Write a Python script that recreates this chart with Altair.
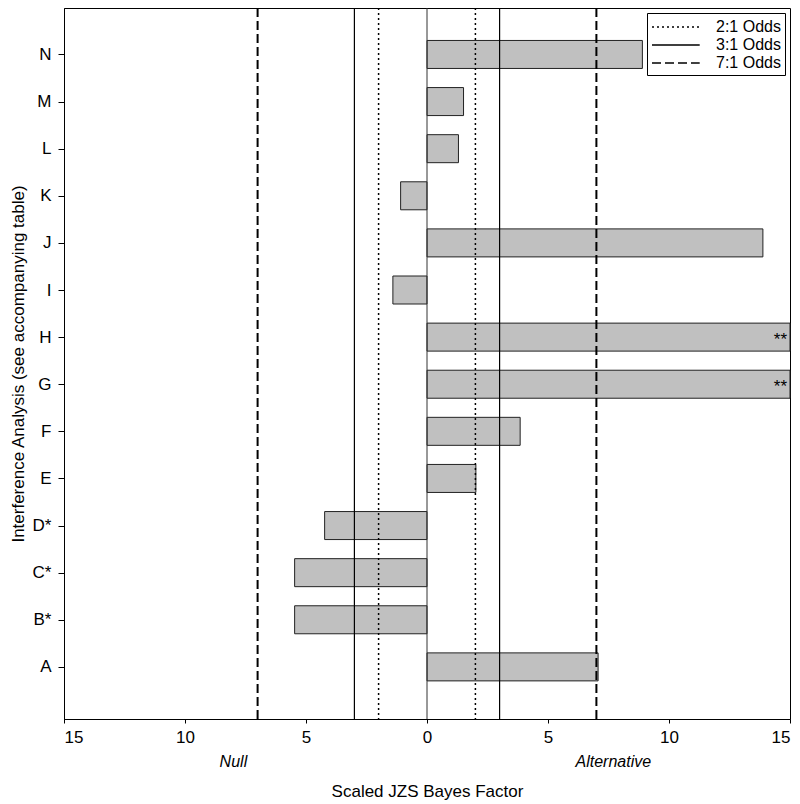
import json
import altair as alt
import pandas as pd

categories = ["A", "B*", "C*", "D*", "E", "F", "G", "H", "I", "J", "K", "L", "M", "N"]
bayes = [7.07, -5.47, -5.47, -4.23, 2.02, 3.85, 15.0, 15.0, -1.41, 13.88, -1.09, 1.30, 1.51, 8.9]
marks = ["", "", "", "", "", "", "**", "**", "", "", "", "", "", ""]

odds_types = ["2:1 Odds", "2:1 Odds", "3:1 Odds", "3:1 Odds", "7:1 Odds", "7:1 Odds"]
odds_pos = [-2, 2, -3, 3, -7, 7]
odds_width = [1.5, 1.5, 1.2, 1.2, 2, 2]

side_labels = ["Null", "Alternative"]
side_pos = [-8.0, 7.7]

bars = pd.DataFrame({
    "cat": categories,
    "pos": list(range(1, len(categories) + 1)),
    "val": bayes,
    "zero": [0] * len(categories),
    "mark": marks,
})
rules = pd.DataFrame({"type": odds_types, "x": odds_pos, "w": odds_width})
sides = pd.DataFrame({"label": side_labels, "x": side_pos})

FONT = "Liberation Sans"
W, H = 726, 711

label_expr = "%s[datum.value - 1]" % json.dumps(categories)

xscale = alt.Scale(domain=[-15, 15], nice=False, zero=False)
yscale = alt.Scale(domain=[0, 14.88], nice=False, zero=False)

x_axis = alt.Axis(
    title="Scaled JZS Bayes Factor",
    values=[-15, -10, -5, 0, 5, 10, 15],
    labelExpr="abs(datum.value)",
    grid=False, tickSize=4, labelPadding=6, titlePadding=38,
    labelFontSize=17, titleFontSize=17, titleFontWeight="normal",
    labelFont=FONT, titleFont=FONT,
    domainColor="black", tickColor="black", labelColor="black", titleColor="black",
)
y_axis = alt.Axis(
    title="Interference Analysis (see accompanying table)",
    values=list(range(1, len(categories) + 1)),
    labelExpr=label_expr,
    grid=False, tickSize=6, labelPadding=7, titleX=-37,
    labelFontSize=17, titleFontSize=17, titleFontWeight="normal",
    labelFont=FONT, titleFont=FONT,
    domainColor="black", tickColor="black", labelColor="black", titleColor="black",
)

bar_layer = alt.Chart(bars).mark_bar(
    size=28, color="#c0c0c0", stroke="#222", strokeWidth=1
).encode(
    x=alt.X("val:Q", scale=xscale, axis=x_axis),
    x2="zero:Q",
    y=alt.Y("pos:Q", scale=yscale, axis=y_axis),
)

zero_rule = alt.Chart(bars).mark_rule(color="#333", strokeWidth=1).encode(
    x=alt.X("mean(zero):Q", scale=xscale)
)

odds_layer = alt.Chart(rules).mark_rule(color="black").encode(
    x=alt.X("x:Q", scale=xscale),
    strokeDash=alt.StrokeDash(
        "type:N",
        scale=alt.Scale(domain=["2:1 Odds", "3:1 Odds", "7:1 Odds"],
                        range=[[2, 3], [1, 0], [9, 4]]),
        legend=alt.Legend(
            title=None, orient="top-right", offset=5,
            symbolType="M-1,0H4.3", symbolSize=324, symbolStrokeWidth=1.5,
            symbolStrokeColor="black",
            labelFont=FONT, labelFontSize=16, labelColor="black",
            labelOffset=45, rowPadding=0,
            strokeColor="black", fillColor="white", padding=4,
        ),
    ),
    strokeWidth=alt.StrokeWidth("w:Q", scale=None, legend=None),
)

star_layer = alt.Chart(bars).mark_text(
    align="right", baseline="middle", dx=-3, dy=3, fontSize=17, font=FONT, color="black"
).encode(
    x=alt.X("val:Q", scale=xscale),
    y=alt.Y("pos:Q", scale=yscale),
    text="mark:N",
)

side_layer = alt.Chart(sides).mark_text(
    fontStyle="italic", fontSize=16, font=FONT, color="black", baseline="middle"
).encode(
    x=alt.X("x:Q", scale=xscale),
    y=alt.value(H + 43),
    text="label:N",
)

chart = alt.layer(bar_layer, odds_layer, zero_rule, star_layer, side_layer).properties(
    width=W, height=H,
    autosize=alt.AutoSizeParams(type="none"),
    padding={"left": 56, "top": 0, "right": 2, "bottom": 85},
).configure_view(stroke="black", strokeWidth=1)

chart.save("out.html", embed_options={"renderer": "svg", "actions": False})
